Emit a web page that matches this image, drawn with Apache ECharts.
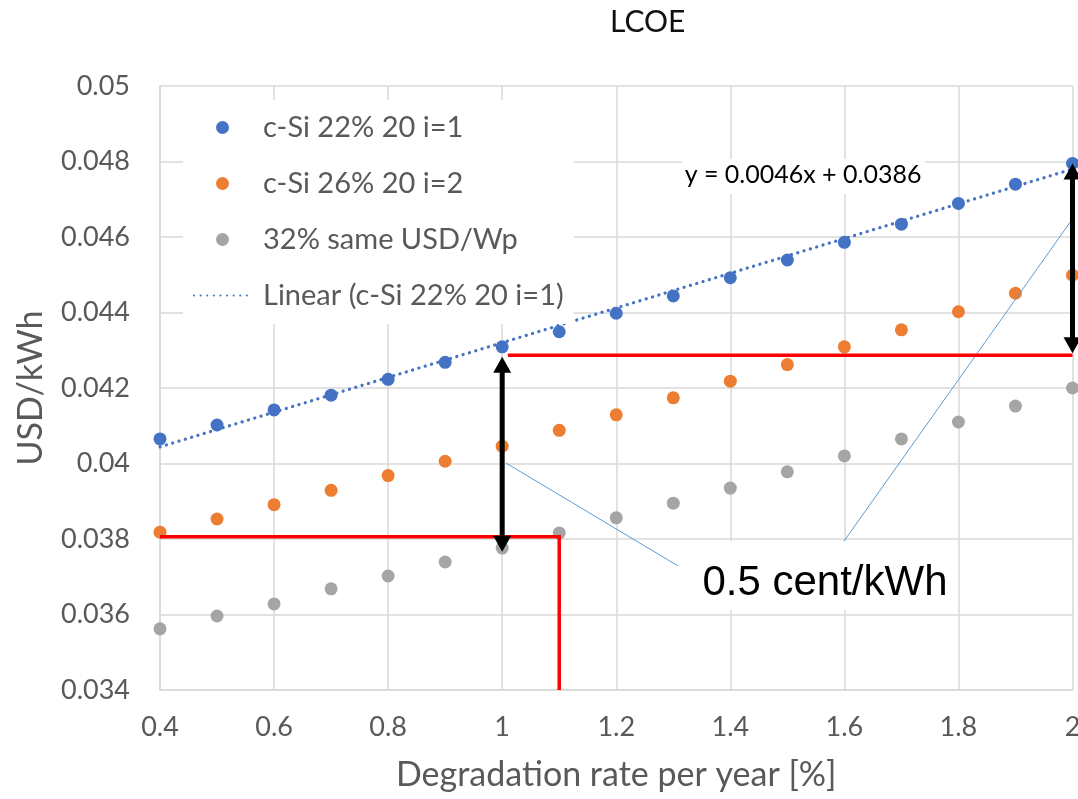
<!DOCTYPE html>
<html>
<head>
<meta charset="utf-8">
<title>LCOE</title>
<script src="https://cdn.jsdelivr.net/npm/echarts@6.0.0/dist/echarts.min.js"></script>
<style>
  html, body { margin: 0; padding: 0; background: #fff; }
  #chart { width: 1078px; height: 799px; }
</style>
</head>
<body>
<div id="chart"></div>
<script>
// Degradation rate per year [%]
const degradation = [0.4, 0.5, 0.6, 0.7, 0.8, 0.9, 1.0, 1.1, 1.2, 1.3, 1.4, 1.5, 1.6, 1.7, 1.8, 1.9, 2.0];

// LCOE in USD/kWh
const cSi22 = [0.04065, 0.04102, 0.04142, 0.04181, 0.04223, 0.04268, 0.04309, 0.04349, 0.04398,
               0.04444, 0.04492, 0.04539, 0.04586, 0.04634, 0.04689, 0.04740, 0.04795];
const cSi26 = [0.03818, 0.03853, 0.03891, 0.03929, 0.03968, 0.04006, 0.04046, 0.04088, 0.04129,
               0.04174, 0.04218, 0.04262, 0.04309, 0.04354, 0.04402, 0.04451, 0.04499];
const same32 = [0.03562, 0.03596, 0.03628, 0.03668, 0.03702, 0.03739, 0.03776, 0.03816, 0.03856,
                0.03895, 0.03935, 0.03978, 0.04020, 0.04065, 0.04110, 0.04152, 0.04200];

const seriesNames = ['c-Si 22% 20 i=1', 'c-Si 26% 20 i=2', '32% same USD/Wp', 'Linear (c-Si 22% 20 i=1)'];

// Linear trendline of the c-Si 22% series, y = slope * x + intercept
const trendSlope = 0.0046;
const trendIntercept = 0.0386;
const trendLabel = 'y = 0.0046x + 0.0386';

// Guide lines (data coordinates)
const guideLow = [[0.4, 0.03806], [1.1, 0.03806], [1.1, 0.034]];
const guideHigh = [[1.01, 0.04287], [2.0, 0.04287]];

// Double-headed arrows: [x, upper value, lower value]
const gapArrows = [[1.0, 0.04283, 0.03766], [2.0, 0.04795, 0.04292]];

// Callout leader lines
const calloutA = [[1.007, 0.04001], [1.308, 0.03729]];
const calloutB = [[1.587, 0.03768], [2.0, 0.04648]];

// Text boxes: [x, y] centre of the text
const eqBox = [[1.5275, 0.04764]];
const centBox = [[1.566, 0.03683]];
const centLabel = '0.5 cent/kWh';

const xTicks = { min: 0.4, max: 2.0, interval: 0.2 };
const yTicks = { min: 0.034, max: 0.05, interval: 0.002 };

const pairs = (ys) => degradation.map((x, i) => [x, ys[i]]);
const trendData = [xTicks.min, xTicks.max].map(x => [x, trendSlope * x + trendIntercept]);

const FONT = 'Lato, "Open Sans", sans-serif';
const GRID_COLOR = '#d9d9d9';
const LABEL_COLOR = '#595959';

const chart = echarts.init(document.getElementById('chart'), null, { renderer: 'canvas' });

function guideSeries(data, color, width, z) {
  return {
    type: 'line', data, silent: true, symbol: 'none', z,
    lineStyle: { color, width, cap: 'butt', join: 'miter' },
    animation: false, legendHoverLink: false, tooltip: { show: false }
  };
}

chart.setOption({
  animation: false,
  title: {
    text: 'LCOE',
    left: 605, top: 2,
    textStyle: { fontFamily: FONT, fontSize: 30, fontWeight: 'normal', color: '#111' }
  },
  grid: { left: 160, right: 5.5, top: 86, bottom: 109, containLabel: false, outerBoundsMode: 'none' },
  legend: {
    data: [
      seriesNames[0],
      seriesNames[1],
      seriesNames[2],
      // trendline entry: dotted line only, no marker
      { name: seriesNames[3], itemStyle: { opacity: 0 } }
    ],
    orient: 'vertical',
    left: 183, top: 100,
    padding: [13, 10, 14, 10],
    backgroundColor: '#fff',
    itemWidth: 57, itemHeight: 13, itemGap: 27,
    selectedMode: false,
    textStyle: { fontFamily: FONT, fontSize: 29, color: LABEL_COLOR, lineHeight: 26, padding: [0, 0, 0, 7] },
    z: 20
  },
  xAxis: {
    type: 'value',
    min: xTicks.min, max: xTicks.max, interval: xTicks.interval,
    name: 'Degradation rate per year [%]',
    nameLocation: 'middle', nameGap: 68,
    nameTextStyle: { fontFamily: FONT, fontSize: 34, color: LABEL_COLOR },
    axisLine: { show: true, lineStyle: { color: GRID_COLOR, width: 1.5 } },
    axisTick: { show: false },
    axisLabel: { fontFamily: FONT, fontSize: 27, color: LABEL_COLOR, margin: 24 },
    splitLine: { show: true, lineStyle: { color: GRID_COLOR, width: 1.5 } }
  },
  yAxis: {
    type: 'value',
    min: yTicks.min, max: yTicks.max, interval: yTicks.interval,
    name: 'USD/kWh',
    nameLocation: 'middle', nameRotate: 90, nameGap: 112,
    nameTextStyle: { fontFamily: FONT, fontSize: 34, color: LABEL_COLOR },
    axisLine: { show: true, lineStyle: { color: GRID_COLOR, width: 1.5 } },
    axisTick: { show: false },
    axisLabel: { fontFamily: FONT, fontSize: 27, color: LABEL_COLOR, margin: 30 },
    splitLine: { show: true, lineStyle: { color: GRID_COLOR, width: 1.5 } }
  },
  series: [
    {
      name: seriesNames[0], type: 'scatter', data: pairs(cSi22),
      symbol: 'circle', symbolSize: 13, itemStyle: { color: '#4472c4', opacity: 1 }, z: 3
    },
    {
      name: seriesNames[1], type: 'scatter', data: pairs(cSi26),
      symbol: 'circle', symbolSize: 13, itemStyle: { color: '#ed7d31', opacity: 1 }, z: 3
    },
    {
      name: seriesNames[2], type: 'scatter', data: pairs(same32),
      symbol: 'circle', symbolSize: 13, itemStyle: { color: '#a5a5a5', opacity: 1 }, z: 3
    },
    {
      name: seriesNames[3], type: 'line', data: trendData, symbol: 'none', showSymbol: false, z: 4,
      itemStyle: { color: 'rgba(68,114,196,0)' },
      lineStyle: { color: '#4472c4', width: 3.2, type: [0.1, 6.5], cap: 'round' }
    },
    // callout leader lines
    guideSeries(calloutA, '#5b9bd5', 1, 5),
    guideSeries(calloutB, '#5b9bd5', 1, 5),
    // red guide lines
    guideSeries(guideLow, '#ff0000', 3.5, 6),
    guideSeries(guideHigh, '#ff0000', 3.5, 6),
    // black double-headed arrows
    {
      type: 'custom', data: gapArrows, silent: true, z: 7,
      renderItem(params, api) {
        const x = api.value(0);
        const a = api.coord([x, api.value(1)]);
        const b = api.coord([x, api.value(2)]);
        const top = a[1] < b[1] ? a : b;
        const bot = a[1] < b[1] ? b : a;
        const head = 16, half = 9;
        return {
          type: 'group',
          children: [
            { type: 'line', shape: { x1: top[0], y1: top[1] + head - 1, x2: bot[0], y2: bot[1] - head + 1 },
              style: { stroke: '#000', lineWidth: 5 } },
            { type: 'polygon', shape: { points: [[top[0], top[1]], [top[0] - half, top[1] + head], [top[0] + half, top[1] + head]] },
              style: { fill: '#000' } },
            { type: 'polygon', shape: { points: [[bot[0], bot[1]], [bot[0] - half, bot[1] - head], [bot[0] + half, bot[1] - head]] },
              style: { fill: '#000' } }
          ]
        };
      }
    },
    // trendline equation box
    {
      type: 'custom', data: eqBox, silent: true, z: 8,
      renderItem(params, api) {
        const p = api.coord([api.value(0), api.value(1)]);
        return {
          type: 'group',
          children: [
            { type: 'rect', shape: { x: p[0] - 121, y: p[1] - 16, width: 243, height: 35 }, style: { fill: '#fff' } },
            { type: 'text', x: p[0], y: p[1],
              style: { text: trendLabel, fontFamily: FONT, fontSize: 25, fill: '#000', align: 'center', verticalAlign: 'middle' } }
          ]
        };
      }
    },
    // "0.5 cent/kWh" text box
    {
      type: 'custom', data: centBox, silent: true, z: 8,
      renderItem(params, api) {
        const p = api.coord([api.value(0), api.value(1)]);
        return {
          type: 'group',
          children: [
            { type: 'rect', shape: { x: p[0] - 146, y: p[1] - 42, width: 272, height: 69 }, style: { fill: '#fff' } },
            { type: 'text', x: p[0], y: p[1],
              style: { text: centLabel, fontFamily: '"Liberation Sans", Arial, sans-serif', fontSize: 42, fill: '#000', align: 'center', verticalAlign: 'middle' } }
          ]
        };
      }
    }
  ]
});
</script>
</body>
</html>
